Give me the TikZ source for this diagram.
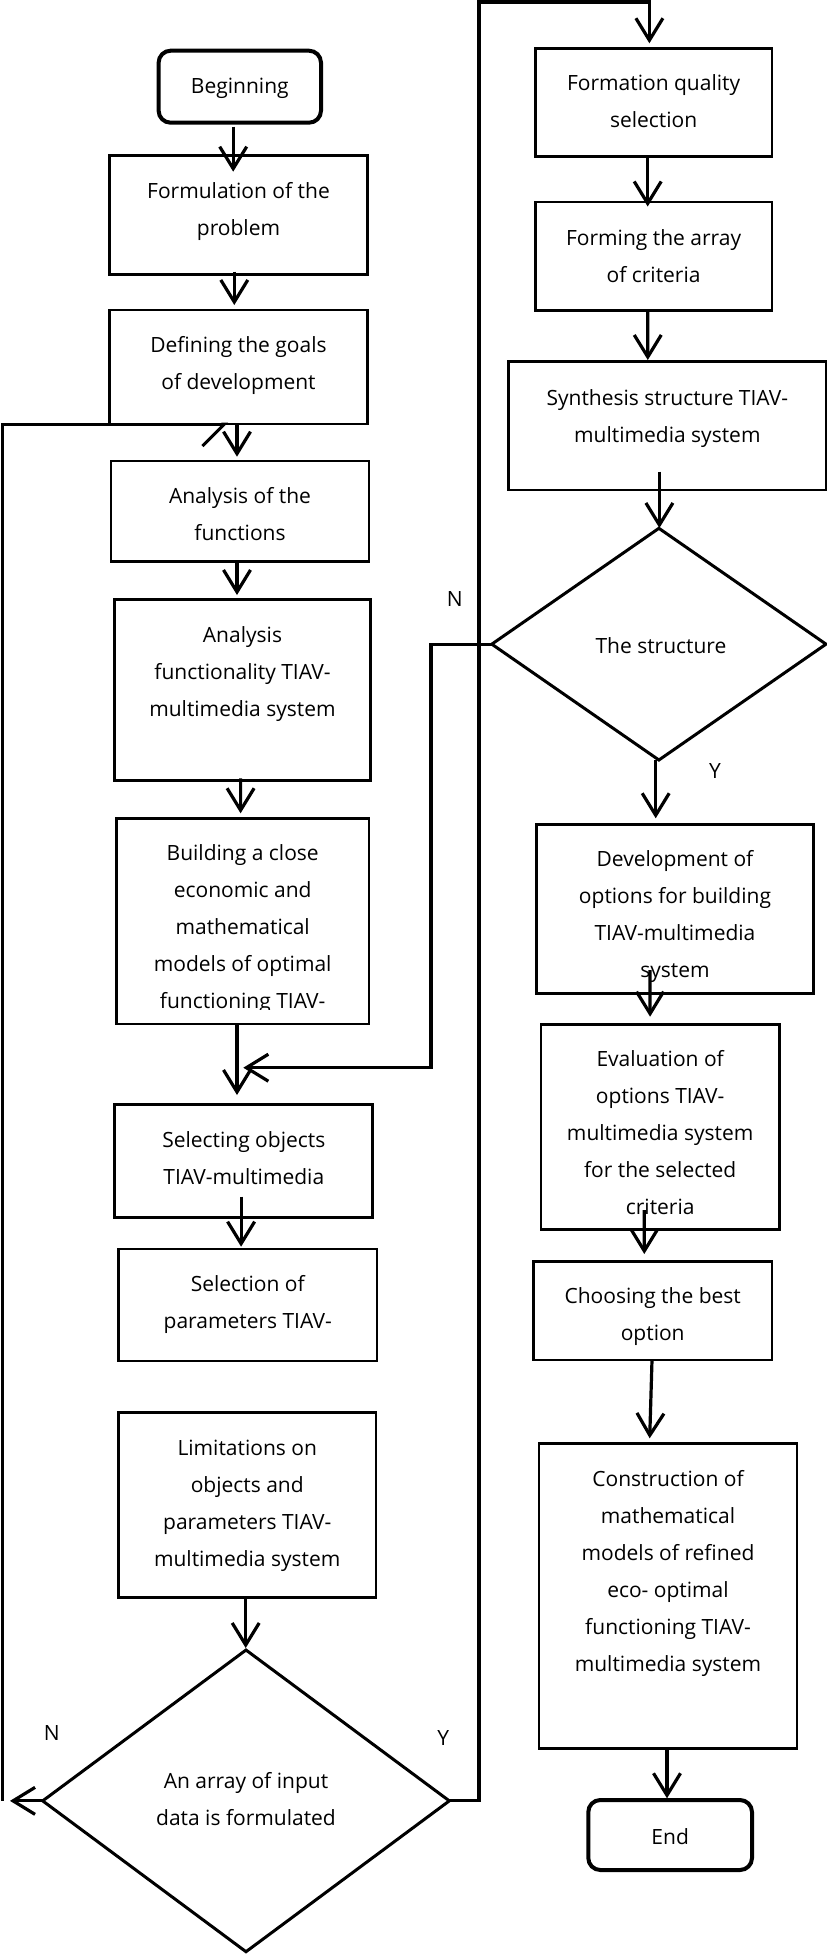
\documentclass[tikz,border=0pt]{standalone}
\usepackage{fontspec}
\setmainfont{Open Sans}
\usetikzlibrary{arrows.meta,shapes.geometric,fit}
\begin{document}
\begin{tikzpicture}[x=1pt,y=-1pt,
  box/.style={draw, line width=2.7pt, inner sep=0pt, outer sep=0pt, rectangle},
  term/.style={box, line width=4pt, rounded corners=12pt},
  dia/.style={draw, diamond, line width=3pt, inner sep=0pt, outer sep=0pt},
  txt/.style={align=center, inner sep=0pt, font=\fontsize{21}{37}\selectfont},
  arr/.style={line width=3.2pt, -{Straight Barb[length=22pt,width=27pt]}},
  ln/.style={line width=3pt}]
\fill[white] (0,0) rectangle (827,1954);
\useasboundingbox (0,0) rectangle (827,1954);

% left column boxes
\node[term, fit={(158.6,50.7)(321,122.7)}] (b1) {};
\node[box, fit={(109.5,155.7)(367.5,274.3)}] (b2) {};
\node[box, fit={(109.5,310)(367.5,424)}] (b3) {};
\node[box, fit={(111,461)(369,561.7)}] (b4) {};
\node[box, fit={(114.8,599.3)(370.2,780.7)}] (b5) {};
\node[box, fit={(116.3,818.3)(369.1,1024)}] (b6) {};
\node[box, fit={(114.8,1104.3)(372.8,1217.3)}] (b7) {};
\node[box, fit={(118.5,1249)(377,1361)}] (b8) {};
\node[box, fit={(118.5,1412.3)(376,1597.3)}] (b9) {};
\node[dia, minimum width=406.6pt, minimum height=301.7pt] (d1) at (246,1800.85) {};

% right column boxes
\node[box, fit={(535.2,48.3)(772,156.5)}] (b10) {};
\node[box, fit={(535.2,202)(772,310.5)}] (b11) {};
\node[box, fit={(508.7,361.7)(826,490)}] (b12) {};
\node[dia, minimum width=334.2pt, minimum height=231.7pt] (d2) at (658.9,644.15) {};
\node[box, fit={(536.7,824.3)(813.3,993.3)}] (b13) {};
\node[box, fit={(541,1024.3)(779.5,1229.3)}] (b14) {};
\node[box, fit={(533.3,1261.7)(772,1360)}] (b15) {};
\node[box, fit={(539,1443.3)(797,1748.3)}] (b16) {};
\node[term, fit={(588.3,1800)(752,1870)}] (b17) {};

% texts
\node[txt] (t1) at (239.8,86) {\strut Beginning};
\node[txt] (t2) at (238.5,210) {\strut Formulation of the\\\strut problem};
\node[txt] (t3) at (238.5,364) {\strut Defining the goals\\\strut of development};
\node[txt] (t4) at (240,515) {\strut Analysis of the\\\strut functions};
\node[txt] (t5) at (242.5,672) {\strut Analysis\\\strut functionality TIAV-\\\strut multimedia system};
\begin{scope}
\clip (116.3,818.3) rectangle (369.1,1009);
\node[txt] (t6) at (242.7,927.2) {\strut Building a close\\\strut economic and\\\strut mathematical\\\strut models of optimal\\\strut functioning TIAV-};
\end{scope}
\node[txt] (t7) at (243.8,1158.3) {\strut Selecting objects\\\strut TIAV-multimedia};
\node[txt] (t8) at (247.75,1302.5) {\strut Selection of\\\strut parameters TIAV-};
\node[txt] (t9) at (247.25,1503.3) {\strut Limitations on\\\strut objects and\\\strut parameters TIAV-\\\strut multimedia system};
\node[txt] (t10) at (246,1800) {\strut An array of input\\\strut data is formulated};
\node[txt] (t11) at (653.6,101.5) {\strut Formation quality\\\strut selection};
\node[txt] (t12) at (653.6,256.5) {\strut Forming the array\\\strut of criteria};
\node[txt] (t13) at (667.35,416.7) {\strut Synthesis structure TIAV-\\\strut multimedia system};
\node[txt] (t14) at (661,645.7) {\strut The structure};
\node[txt] (t15) at (675,914.7) {\strut Development of\\\strut options for building\\\strut TIAV-multimedia\\\strut system};
\node[txt] (t16) at (660.2,1133.3) {\strut Evaluation of\\\strut options TIAV-\\\strut multimedia system\\\strut for the selected\\\strut criteria};
\node[txt] (t17) at (652.7,1315) {\strut Choosing the best\\\strut option};
\node[txt] (t18) at (668,1571.7) {\strut Construction of\\\strut mathematical\\\strut models of refined\\\strut eco- optimal\\\strut functioning TIAV-\\\strut multimedia system};
\node[txt] (t19) at (670.15,1837.3) {\strut End};

% labels
\node[txt] (n1) at (454.8,599) {\strut N};
\node[txt] (y1) at (715,770.7) {\strut Y};
\node[txt] (n2) at (51.7,1732.7) {\strut N};
\node[txt] (y2) at (443.3,1738.3) {\strut Y};

% connectors left
\draw[arr] ([xshift=-6.6pt,yshift=-4pt]b1.south) -- ([xshift=-5.3pt,yshift=-16pt]b2.north);
\draw[arr] ([xshift=-4.2pt,yshift=2.6pt]b2.south) -- ([xshift=-4.2pt,yshift=5pt]b3.north);
\draw[arr] ([xshift=-1.5pt,yshift=-1pt]b3.south) -- ([xshift=-3pt,yshift=4.3pt]b4.north);
\draw[arr] ([xshift=-3pt]b4.south) -- ([xshift=-5.5pt,yshift=4.3pt]b5.north);
\draw[arr] ([xshift=-1.9pt,yshift=2.4pt]b5.south) -- ([xshift=-2.1pt,yshift=5pt]b6.north);
\draw[arr] ([xshift=-5.7pt]b6.south) -- ([xshift=-6.8pt,yshift=9.3pt]b7.north);
\draw[arr] ([xshift=-2.7pt,yshift=20.6pt]b7.south) -- ([xshift=-6.65pt,yshift=2.3pt]b8.north);
\draw[arr] ([xshift=-1.55pt,yshift=-0.7pt]b9.south) -- ([xshift=-0.3pt,yshift=2pt]d1.north);

% N loop bottom
\coordinate (nL) at (10,1800.85);
\draw[arr] (d1.west) -- (nL);
\draw[ln, -{Straight Barb[harpoon,swap,length=22pt,width=44pt]}] ([xshift=-7.3pt]nL) |- ([xshift=-10.5pt]b3.south);

% Y path
\draw[arr] (d1.east) -- (479,1800.85) -- (479,2) -| ([xshift=-4.2pt,yshift=5pt]b10.north);

% connectors right
\draw[arr] ([xshift=-5.9pt]b10.south) -- ([xshift=-5.9pt,yshift=-4.5pt]b11.north);
\draw[arr] ([xshift=-5.9pt]b11.south) -- ([xshift=-19.55pt,yshift=1.7pt]b12.north);
\draw[arr] ([xshift=-7.95pt,yshift=18.3pt]b12.south) -- ([xshift=0.5pt,yshift=0.3pt]d2.north);
\draw[arr] (d2.west) -- (431,644.15) -- (431,1067.7) -- ([xshift=-0.5pt,yshift=36.6pt]b7.north);
\draw[arr] ([xshift=-3.2pt]d2.south) -- ([xshift=-19.3pt,yshift=6pt]b13.north);
\draw[arr] ([xshift=-25pt,yshift=23.3pt]b13.south) -- ([xshift=-10.15pt,yshift=7.6pt]b14.north);
\draw[arr] ([xshift=-15.95pt,yshift=19.3pt]b14.south) -- ([xshift=-8.35pt,yshift=7.7pt]b15.north);
\draw[arr] ([xshift=-0.65pt]b15.south) -- ([xshift=-18.3pt,yshift=5pt]b16.north);
\draw[arr] ([xshift=-1pt]b16.south) -- ([xshift=-3.15pt,yshift=1.7pt]b17.north);
\end{tikzpicture}
\end{document}
